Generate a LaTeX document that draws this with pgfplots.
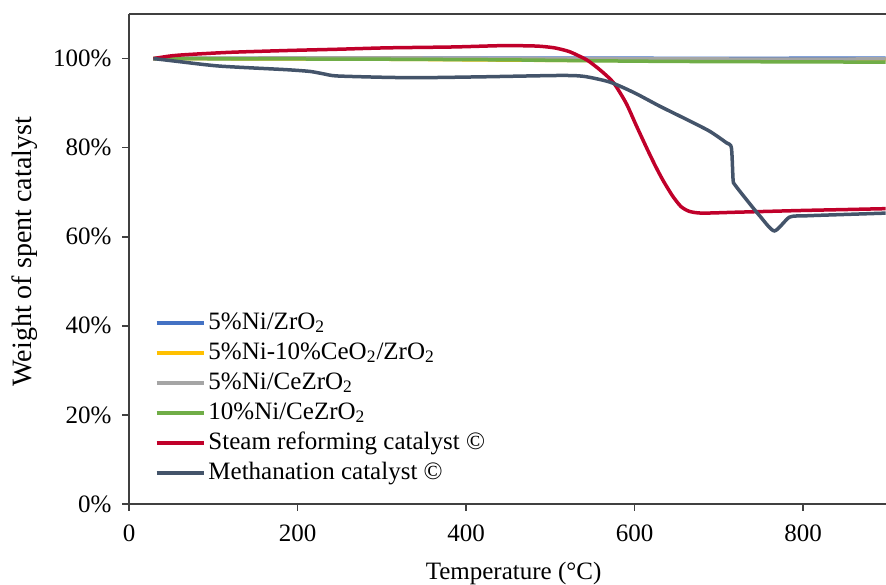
\documentclass[border=0pt]{standalone}
\usepackage{fontspec}
\setmainfont{Liberation Serif}
\usepackage{pgfplots}
\pgfplotsset{compat=1.18}

\definecolor{cBlue}{HTML}{4472C4}
\definecolor{cOrange}{HTML}{FFC000}
\definecolor{cGray}{HTML}{A5A5A5}
\definecolor{cGreen}{HTML}{70AD47}
\definecolor{cRed}{RGB}{192,0,42}
\definecolor{cSlate}{HTML}{44546A}

\begin{document}
\begin{tikzpicture}
\begin{axis}[
  name=ax,
  scale only axis,
  width=378.5pt, height=245pt,
  xmin=0, xmax=898.5,
  ymin=0, ymax=110,
  axis x line=box, axis y line=left,
  axis line style={-, black!75, line width=0.8pt},
  xtick={0,200,...,800},
  ytick={0,20,...,100},
  yticklabels={0\%,20\%,40\%,60\%,80\%,100\%},
  xtick pos=bottom, ytick pos=left,
  tick align=outside,
  major tick length=3.3pt,
  tick style={black!75, line width=0.8pt},
  /pgf/number format/assume math mode=true,
  ticklabel style={font=\fontsize{12.5}{15}\selectfont},
  xticklabel style={yshift=-3.5pt},
  yticklabel style={xshift=-2pt},
  xlabel={Temperature (°C)},
  ylabel={Weight of spent catalyst},
  xlabel style={font=\fontsize{12.5}{15}\selectfont, at={(axis description cs:0.508,-0.1408)}, anchor=center},
  ylabel style={font=\fontsize{14}{16}\selectfont, at={(axis description cs:-0.1374,0.515)}, anchor=center},
  legend cell align=left,
  legend style={draw=none, fill=none, inner sep=0pt, outer sep=0pt,
    at={(axis description cs:0.0343,0.4)}, anchor=north west,
    font=\fontsize{12.5}{15}\selectfont,
    nodes={text height=9pt, text depth=3pt, inner sep=1.5pt}},
  legend image code/.code={\draw[#1] (0pt,0pt) -- (23.5pt,0pt);},
  every axis plot/.append style={line width=1.75pt, smooth, tension=0.4},
]
\addplot[cBlue] coordinates {
  (29,100) (100,100.05) (300,100.1) (500,100.1) (700,100.05) (898,100.1)
};
\addlegendentry{5\%Ni/ZrO\textsubscript{2}}
\addplot[cOrange] coordinates {
  (29,100) (300,99.85) (500,99.6) (700,99.6) (800,99.7) (898,99.75)
};
\addlegendentry{5\%Ni-10\%CeO\textsubscript{2}/ZrO\textsubscript{2}}
\addplot[cGray] coordinates {
  (29,100) (100,100.1) (300,100.15) (500,100.0) (700,99.9) (898,99.9)
};
\addlegendentry{5\%Ni/CeZrO\textsubscript{2}}
\addplot[cGreen] coordinates {
  (29,100) (100,99.95) (300,99.85) (450,99.7) (550,99.5) (650,99.35) (800,99.25) (898,99.2)
};
\addlegendentry{10\%Ni/CeZrO\textsubscript{2}}
\addplot[cRed] coordinates {
  (29,100) (50,100.6) (70,100.9) (120,101.4) (187,101.8) (250,102.1)
  (306,102.4) (385,102.6) (444,102.9) (484,102.8) (505,102.4) (522,101.6)
  (535,100.5) (545,99.5) (560,97.3) (575,94.6) (590,90) (602,85)
  (615,79.7) (625,75.8) (634,72.6) (645,69.2) (655,66.8) (665,65.7)
  (680,65.3) (720,65.5) (760,65.7) (800,65.9) (850,66.1) (898,66.3)
};
\addlegendentry{Steam reforming catalyst ©}
\addplot[cSlate] coordinates {
  (29,100) (60,99.3) (108,98.3) (187,97.5) (215,97.1) (230,96.6) (246,96.1)
  (300,95.8) (345,95.7) (420,95.9) (511,96.2) (540,96.0) (571,94.7)
  (600,92.3) (630,89.3) (660,86.5) (689,83.7) (709,81.1) (715,80)
  (717,72.8) (719,71.7) (733,68.3) (749,64.6) (766,61.3) (784,64.4)
  (804,64.7) (850,65.0) (898,65.3)
};
\addlegendentry{Methanation catalyst ©}
\end{axis}
\pgfresetboundingbox
\path[use as bounding box] ([xshift=-64.5pt,yshift=-40pt]ax.south west) rectangle ([yshift=7pt]ax.north east);
\end{tikzpicture}
\end{document}
